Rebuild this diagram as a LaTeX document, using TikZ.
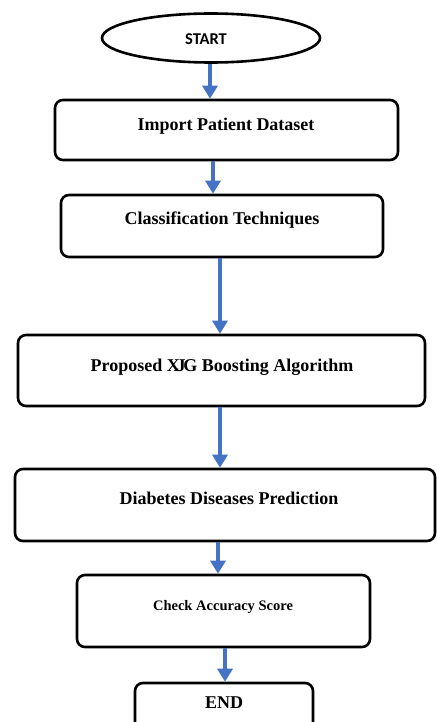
\documentclass[tikz,border=0pt]{standalone}
\usepackage{fontspec}
\setmainfont{Liberation Serif}
\newfontfamily\calib{Carlito}
\usetikzlibrary{arrows.meta,shapes.geometric}
\definecolor{arrblue}{HTML}{4472C4}
\tikzset{
  stepbox/.style={draw=black, line width=2.6bp, rounded corners=8bp, inner sep=0pt, fill=white},
  lbl/.style={font=\bfseries\fontsize{18bp}{20bp}\selectfont, inner sep=0pt, anchor=base},
  arr/.style={draw=arrblue, line width=4.5bp, -{Triangle[width=15bp,length=13bp]}},
}
\begin{document}
\begin{tikzpicture}[x=1bp,y=-1bp]
\useasboundingbox (0,0) rectangle (437,722);
\clip (0,0) rectangle (437,722);
\fill[white] (0,0) rectangle (437,722);
% start
\node[ellipse, draw=black, line width=2.6bp, minimum width=218bp, minimum height=49bp, inner sep=0pt] (start) at (211,38) {};
\node[font=\calib\bfseries\fontsize{16.5bp}{18bp}\selectfont, inner sep=0pt] (tstart) at (206,39) {START};
% boxes
\node[stepbox, minimum width=343bp, minimum height=60bp] (b1) at (226.5,130) {};
\node[stepbox, minimum width=322bp, minimum height=62bp] (b2) at (222,226) {};
\node[stepbox, minimum width=407bp, minimum height=71bp] (b3) at (221.5,370.5) {};
\node[stepbox, minimum width=420bp, minimum height=72bp] (b4) at (225,505) {};
\node[stepbox, minimum width=293bp, minimum height=72bp] (b5) at (223.5,611) {};
\node[stepbox, minimum width=178bp, minimum height=60bp] (b6) at (224,713) {};
% labels
\node[lbl] (t1) at (226,131) {Import Patient Dataset};
\node[lbl] (t2) at (222,224) {Classification Techniques};
\node[lbl] (t3) at (222,371) {Proposed X\kern-0.18em J\kern-0.12em G Boosting Algorithm};
\node[lbl] (t4) at (229,504) {Diabetes Diseases Prediction};
\node[lbl, font=\bfseries\fontsize{14.5bp}{16bp}\selectfont] (t5) at (223,610) {Check Accuracy Score};
\node[lbl] (t6) at (224,708) {END};
% arrow x positions
\coordinate (x1) at (210,0);
\coordinate (x2) at (213,0);
\coordinate (x3) at (220,0);
\coordinate (x4) at (220,0);
\coordinate (x5) at (218,0);
\coordinate (x6) at (225,0);
\draw[arr] (start.south -| x1) -- (b1.north -| x1);
\draw[arr] (b1.south -| x2) -- (b2.north -| x2);
\draw[arr] (b2.south -| x3) -- (b3.north -| x3);
\draw[arr] (b3.south -| x4) -- (b4.north -| x4);
\draw[arr] (b4.south -| x5) -- (b5.north -| x5);
\draw[arr] (b5.south -| x6) -- (b6.north -| x6);
\end{tikzpicture}
\end{document}
